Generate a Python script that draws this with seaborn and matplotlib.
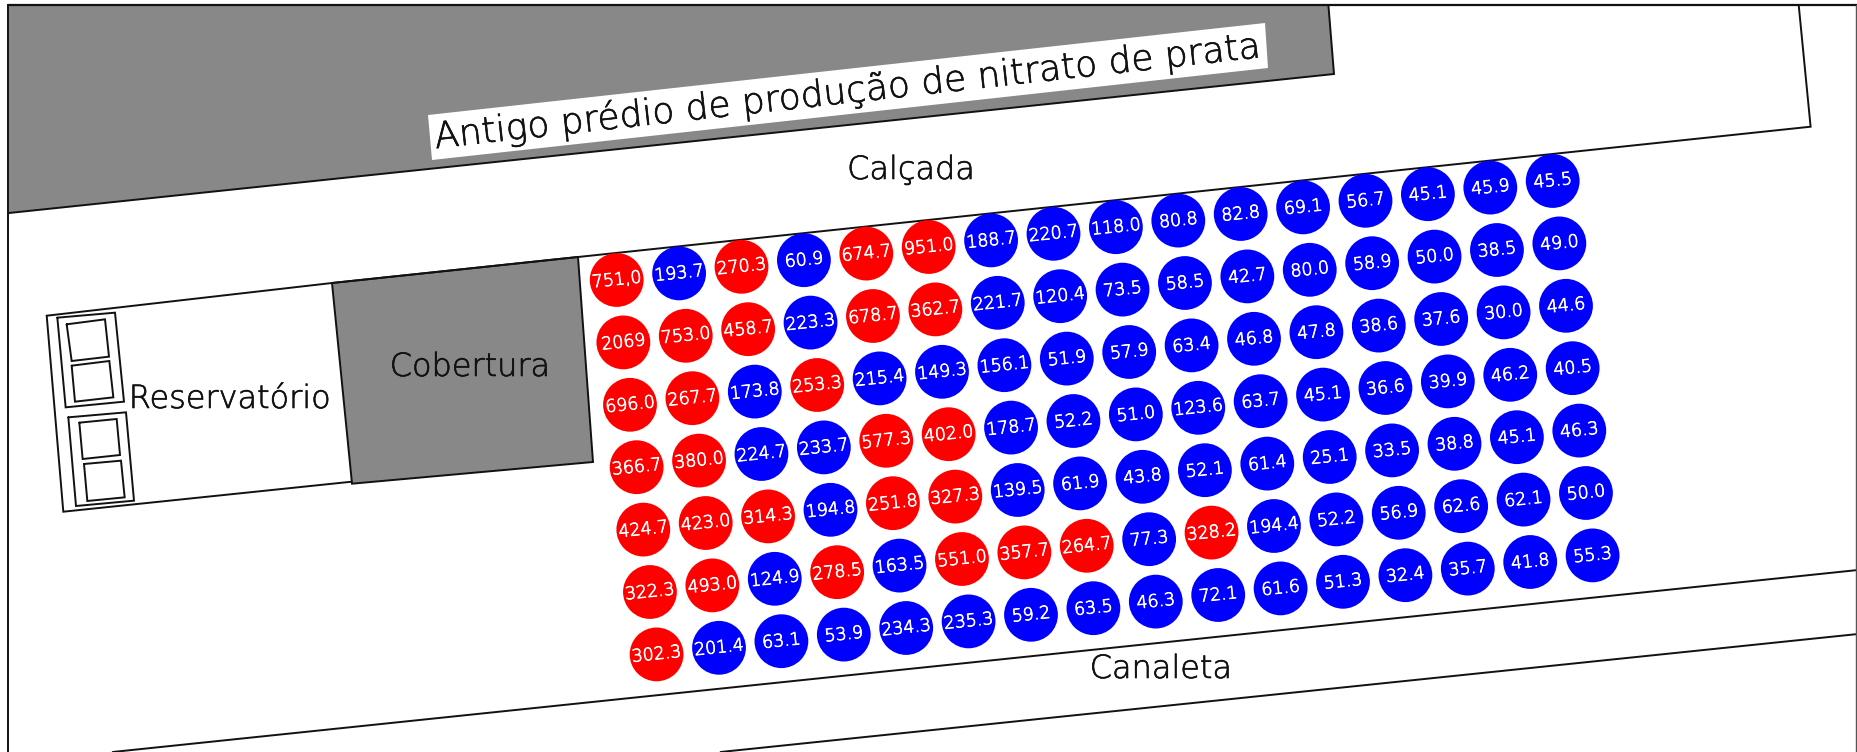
import matplotlib
matplotlib.use("Agg")
import matplotlib.pyplot as plt
import matplotlib.patheffects as pe
from matplotlib.patches import Polygon
import numpy as np
import pandas as pd
import seaborn as sns

row1 = ["751,0", "193.7", "270.3", "60.9", "674.7", "951.0", "188.7", "220.7", "118.0", "80.8", "82.8", "69.1", "56.7", "45.1", "45.9", "45.5"]
row2 = ["2069", "753.0", "458.7", "223.3", "678.7", "362.7", "221.7", "120.4", "73.5", "58.5", "42.7", "80.0", "58.9", "50.0", "38.5", "49.0"]
row3 = ["696.0", "267.7", "173.8", "253.3", "215.4", "149.3", "156.1", "51.9", "57.9", "63.4", "46.8", "47.8", "38.6", "37.6", "30.0", "44.6"]
row4 = ["366.7", "380.0", "224.7", "233.7", "577.3", "402.0", "178.7", "52.2", "51.0", "123.6", "63.7", "45.1", "36.6", "39.9", "46.2", "40.5"]
row5 = ["424.7", "423.0", "314.3", "194.8", "251.8", "327.3", "139.5", "61.9", "43.8", "52.1", "61.4", "25.1", "33.5", "38.8", "45.1", "46.3"]
row6 = ["322.3", "493.0", "124.9", "278.5", "163.5", "551.0", "357.7", "264.7", "77.3", "328.2", "194.4", "52.2", "56.9", "62.6", "62.1", "50.0"]
row7 = ["302.3", "201.4", "63.1", "53.9", "234.3", "235.3", "59.2", "63.5", "46.3", "72.1", "61.6", "51.3", "32.4", "35.7", "41.8", "55.3"]
rows = [row1, row2, row3, row4, row5, row6, row7]
threshold = 250.0

sns.set_theme(style="white")
plt.rcParams["font.family"] = ["DejaVu Sans"]
WEIGHT = 200

records = []
for r, labels in enumerate(rows):
    for c, lab in enumerate(labels):
        records.append({"row": r, "col": c, "label": lab,
                        "value": float(lab.replace(",", "."))})
df = pd.DataFrame(records)
# sampling grid of the site, rotated with the building
df["x"] = 616.7 + 62.4 * df["col"] + 6.65 * df["row"]
df["y"] = 280.0 - 6.6 * df["col"] + 62.4 * df["row"]
df["zone"] = np.where(df["value"] > threshold, "high", "low")

fig = plt.figure(figsize=(18.58, 7.52), dpi=100)
ax = fig.add_axes([0, 0, 1, 1])
ax.set_xlim(0, 1858)
ax.set_ylim(752, 0)
ax.axis("off")

GRAY = "#888888"
LINE = "#111111"
LW = 1.4

def outline(pts, closed=False):
    p = np.array(pts, dtype=float)
    if closed:
        p = np.vstack([p, p[:1]])
    ax.plot(p[:, 0], p[:, 1], color=LINE, lw=LW, solid_joinstyle="miter", zorder=2)

def fill(pts, color):
    ax.add_patch(Polygon(pts, closed=True, facecolor=color, edgecolor="none", zorder=1))

# old building
building = [(9, 5), (1328.4, 5), (1334, 74), (9, 213)]
fill(building, GRAY)
outline([(1328.4, 5), (1334, 74), (9, 213)])

# sidewalk and site edges
outline([(1798.7, 5), (1810.6, 126.7), (578, 257), (332, 283), (46.7, 315.7)])

# covered area
cover = [(332, 283), (578, 257), (593, 462), (352, 483.7)]
fill(cover, GRAY)
outline(cover, closed=True)

# reservoir
outline([(46.7, 315.7), (63.3, 511.7), (351.7, 481.7)])
def z6(pts):
    return [(30 + x / 3, 290 + y / 3) for x, y in pts]
for shape in [
    [(82, 83), (255, 68), (282, 335), (107, 352)],
    [(110, 103), (225, 88), (237, 200), (125, 213)],
    [(125, 227), (238, 213), (250, 322), (135, 335)],
    [(115, 382), (288, 367), (312, 632), (138, 648)],
    [(148, 398), (260, 387), (270, 495), (158, 507)],
    [(162, 522), (273, 512), (284, 622), (172, 633)],
]:
    outline(z6(shape), closed=True)

# gutter
outline([(112.7, 752), (1858, 570)])
outline([(720.6, 752), (1858, 634)])

# frame
ax.plot([8.5, 8.5], [752, 4.5], color=LINE, lw=1.4, zorder=3)
ax.plot([8.5, 1858], [4.5, 4.5], color=LINE, lw=1.6, zorder=3)
ax.plot([1856.5, 1856.5], [4.5, 752], color="#555555", lw=1.0, zorder=3)

# label plate
fill([(428, 115), (1265, 23), (1268, 68), (432, 160)], "white")

sns.scatterplot(data=df, x="x", y="y", hue="zone",
                palette={"high": "#ff0000", "low": "#0000ff"},
                s=1500, linewidth=0, legend=False, ax=ax, zorder=4, marker="o")
ax.set_xlim(0, 1858)
ax.set_ylim(752, 0)
ax.axis("off")

white_stroke = [pe.withStroke(linewidth=0.55, foreground="white")]
dark_stroke = [pe.withStroke(linewidth=0.45, foreground="#111111")]

for _, rec in df.iterrows():
    ax.text(rec["x"], rec["y"], rec["label"], color="white", fontsize=12.5, fontweight=WEIGHT,
            ha="center", va="center", rotation=6, rotation_mode="anchor", zorder=5,
            path_effects=white_stroke)

TC = "#111111"
site_labels = ["Calçada", "Cobertura", "Reservatório", "Canaleta"]
site_x = [911, 470, 230, 1161]
site_y = [170, 367, 399, 669]
ax.text(848, 92, "Antigo prédio de produção de nitrato de prata", color=TC,
        fontsize=26, fontweight=WEIGHT, ha="center", va="center", rotation=6.3,
        rotation_mode="anchor", zorder=5, path_effects=dark_stroke)
for lab, x, y in zip(site_labels, site_x, site_y):
    ax.text(x, y, lab, color=TC, fontsize=23, fontweight=WEIGHT, ha="center", va="center",
            zorder=5, path_effects=dark_stroke)

fig.savefig("out.png", dpi=100, facecolor="white")
